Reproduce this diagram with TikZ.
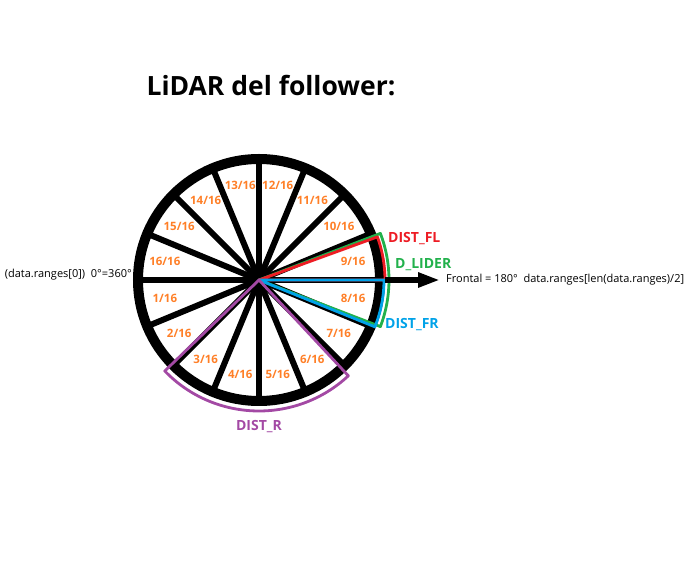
\documentclass[tikz,border=0pt]{standalone}
\usepackage{fontspec}
\setmainfont{Open Sans}
\usetikzlibrary{positioning,arrows.meta}

\definecolor{paintorange}{RGB}{255,127,39}
\definecolor{paintred}{RGB}{237,28,36}
\definecolor{paintgreen}{RGB}{34,177,76}
\definecolor{paintblue}{RGB}{0,162,232}
\definecolor{paintpurple}{RGB}{163,73,164}

\begin{document}
\begin{tikzpicture}[x=1pt, y=1pt,
	sector/.style={line width=2.8pt, line join=round},
	slice/.style={text=paintorange, font=\fontsize{11.5}{13}\selectfont\bfseries, inner sep=0pt},
	tag/.style={font=\fontsize{14}{16}\selectfont\bfseries, anchor=west, inner sep=0pt},
	note/.style={font=\fontsize{11}{13}\selectfont, inner sep=0pt}]
	\useasboundingbox (-259,-284) rectangle (437,280);
	\coordinate (c) at (0,0);
	\node[font=\fontsize{26.5}{30}\selectfont\bfseries] (title) at (12,194) {LiDAR del follower:};
	\draw[line width=10pt] (c) circle (121);
	\foreach \k in {1,...,16} {
		\draw[line width=6pt] (c) -- ({180+\k*22.5}:121);
		\node[slice] (s\k) at ({180+(\k-0.5)*22.5}:96) {\k/16};
	}
	% sectores de las distancias
	\draw[sector, paintgreen] (c) -- (21:130) arc[start angle=21, end angle=-21, radius=130] -- cycle;
	\draw[sector, paintred] (c) -- (20:126) arc[start angle=20, end angle=0, radius=126] -- cycle;
	\draw[sector, paintblue] (c) -- (0:125) arc[start angle=0, end angle=-22, radius=125] -- cycle;
	\draw[sector, paintpurple] (c) -- (224:131) arc[start angle=224, end angle=313, radius=131] -- cycle;
	\node[tag, text=paintred] (fl) at (129,41) {DIST\_FL};
	\node[tag, text=paintgreen] (lider) at (136,15) {D\_LIDER};
	\node[tag, text=paintblue] (fr) at (126,-45) {DIST\_FR};
	\node[tag, text=paintpurple, anchor=center] (r) at (0,-147) {DIST\_R};
	% textos laterales
	\node[note, anchor=east] (zero) at (-127,5) {(data.ranges[0])\ \ 0°=360°};
	\coordinate (e) at (0:126);
	\node[note, inner xsep=6pt, right=55pt of e] (front) {Frontal = 180°\ \ data.ranges[len(data.ranges)/2]};
	\draw[line width=6pt, -{Triangle[length=22pt, width=14pt]}] (e) -- (front);
\end{tikzpicture}
\end{document}
